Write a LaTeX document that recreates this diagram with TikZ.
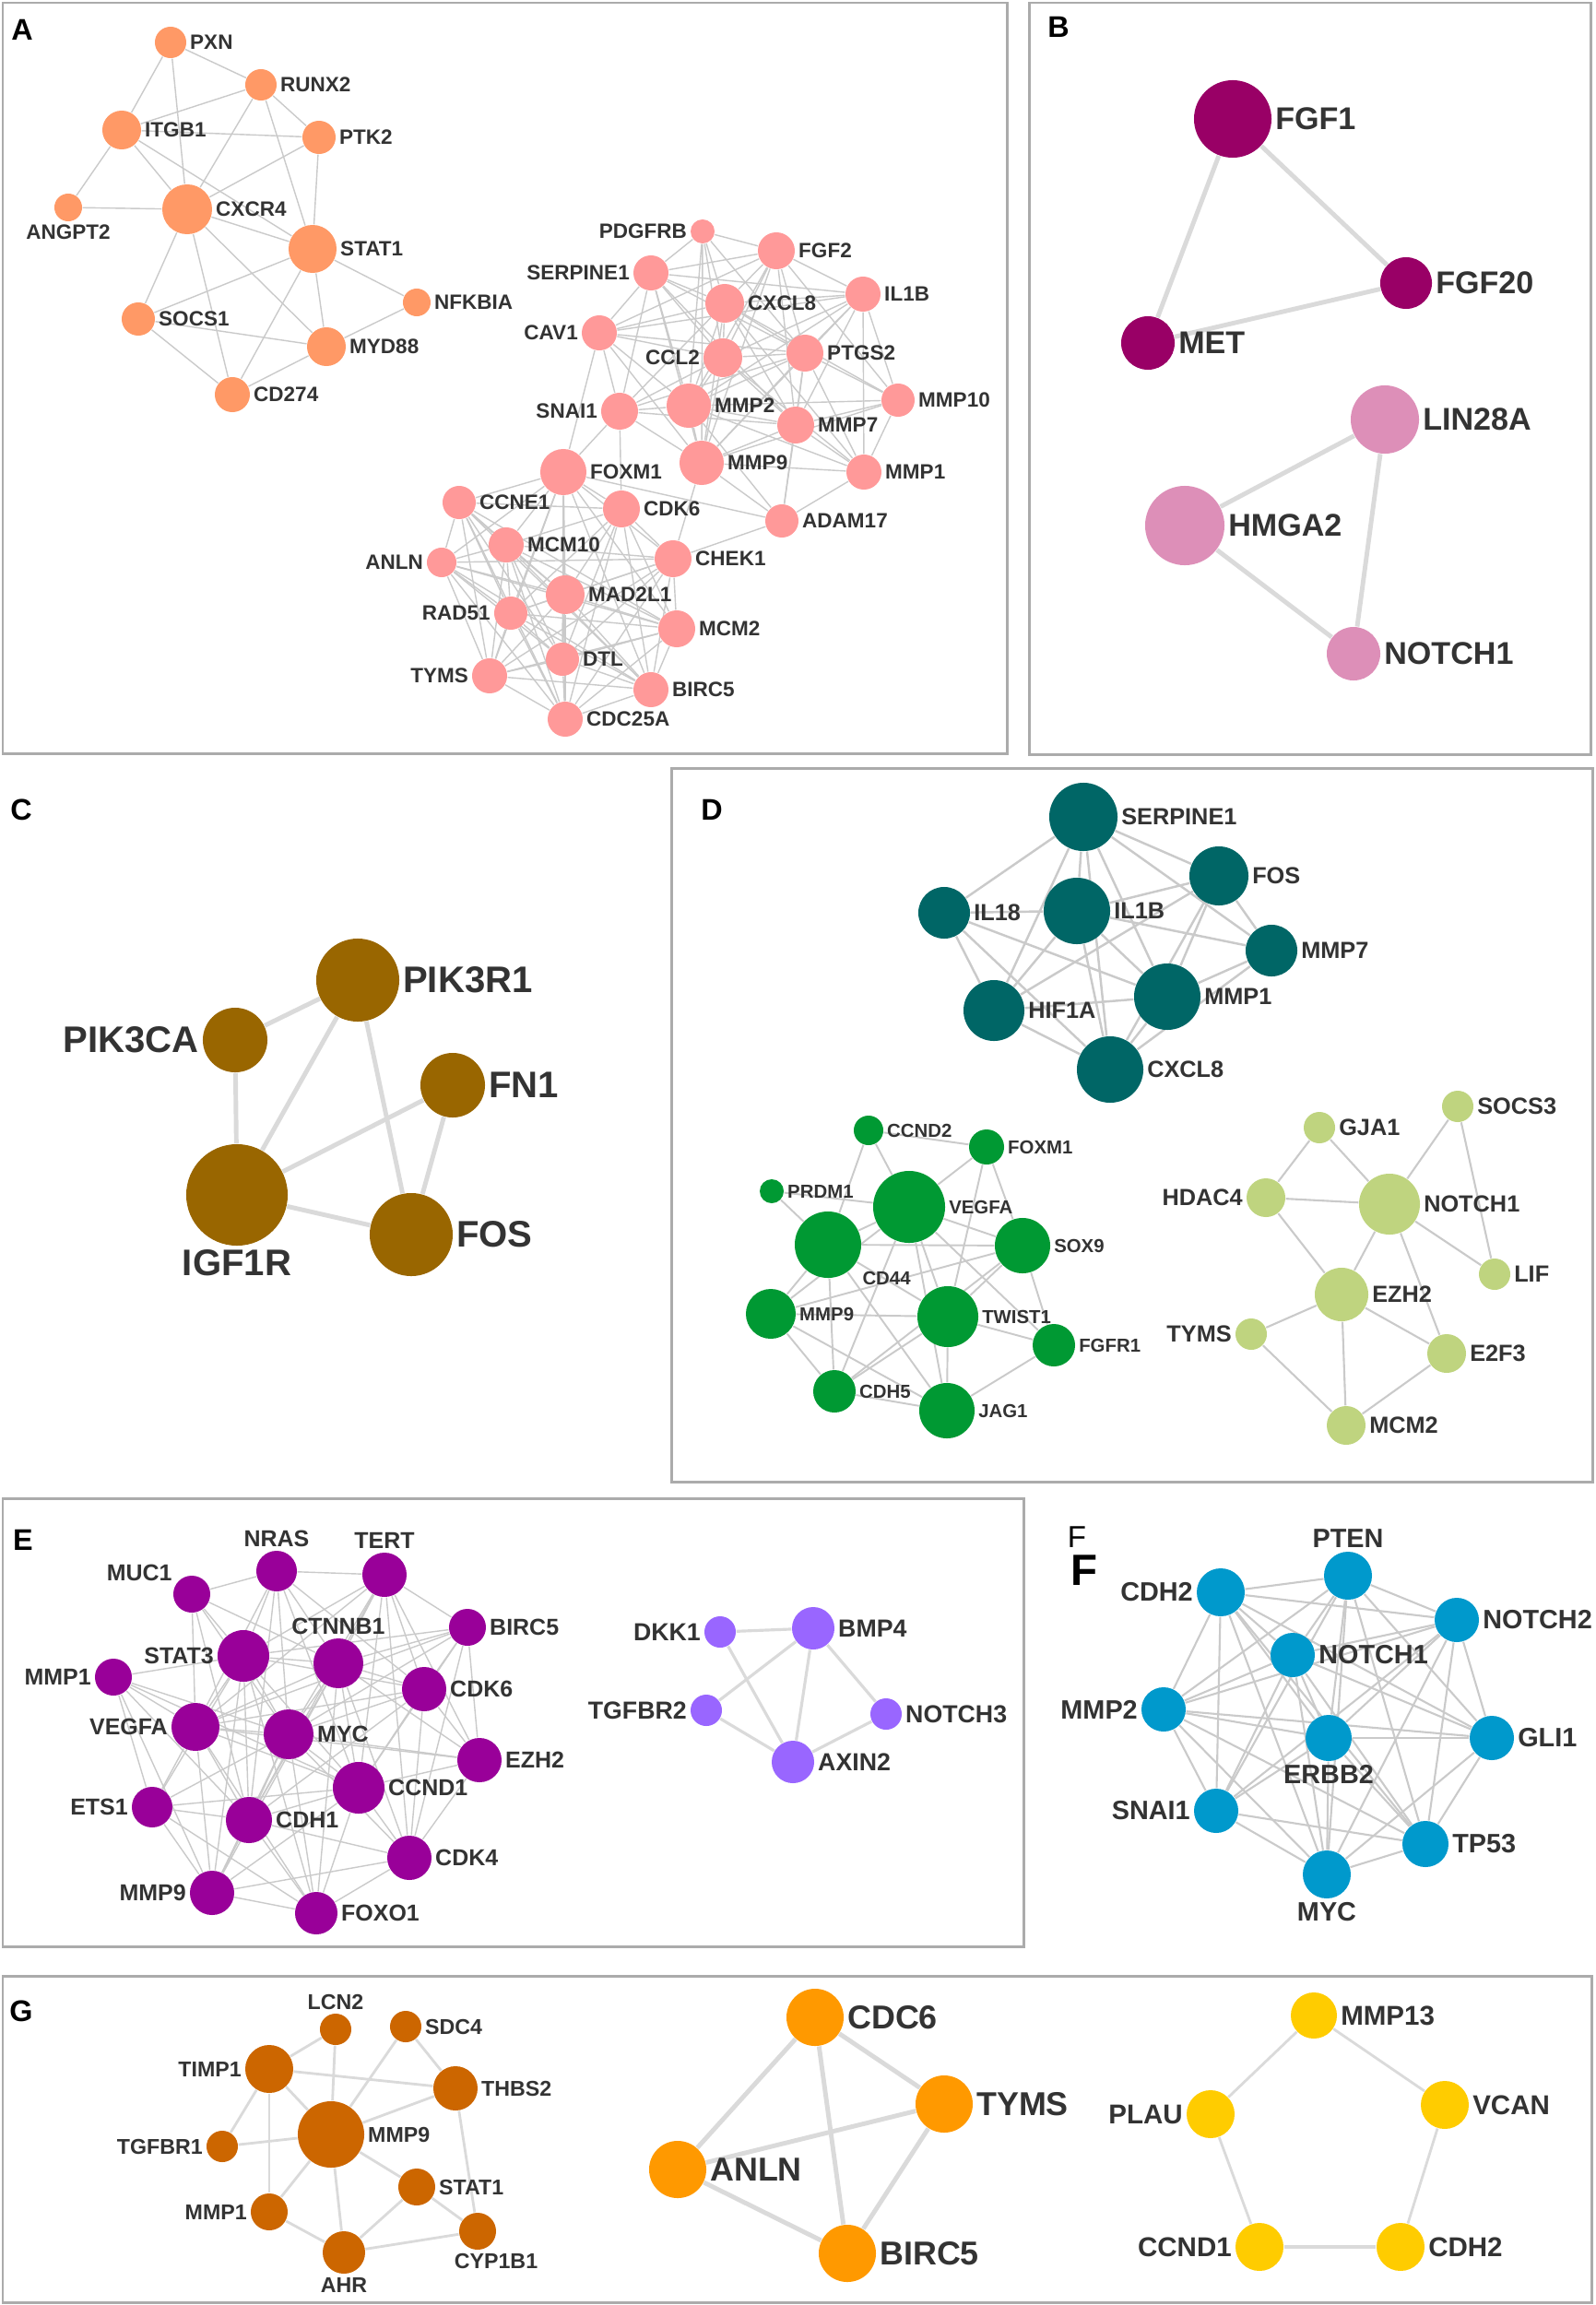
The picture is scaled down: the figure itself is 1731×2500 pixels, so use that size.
\documentclass[tikz,border=0pt]{standalone}
\usepackage{fontspec}
\setmainfont{Liberation Sans}
\pgfdeclarelayer{bg}
\pgfsetlayers{bg,main}
\definecolor{txt}{HTML}{333333}
\definecolor{frm}{HTML}{ABABAB}
\definecolor{lnk}{HTML}{CACACA}
\definecolor{lnkb}{HTML}{DADADA}
\definecolor{cAo}{HTML}{FF9966}
\definecolor{cAp}{HTML}{FF9999}
\definecolor{cBd}{HTML}{990066}
\definecolor{cBl}{HTML}{DD8FB8}
\definecolor{cC}{HTML}{996600}
\definecolor{cDt}{HTML}{006666}
\definecolor{cDg}{HTML}{009933}
\definecolor{cDl}{HTML}{BFD47F}
\definecolor{cEp}{HTML}{990099}
\definecolor{cEv}{HTML}{9966FF}
\definecolor{cF}{HTML}{0099CC}
\definecolor{cGb}{HTML}{CC6600}
\definecolor{cGo}{HTML}{FF9900}
\definecolor{cGy}{HTML}{FFCC00}

\begin{document}
\begin{tikzpicture}[x=0.01cm, y=-0.01cm,
    gene/.style={circle, inner sep=0pt, minimum size=#1*0.1mm},
    lbl/.style={text=txt, inner sep=0.8pt, font=\fontsize{#1}{#1}\selectfont\bfseries},
    lA/.style={lbl=6.4}, lB/.style={lbl=9.7}, lC/.style={lbl=11.4},
    lD/.style={lbl=7.2}, lDg/.style={lbl=5.8}, lE/.style={lbl=7.1}, lEv/.style={lbl=7.6},
    lF/.style={lbl=8.2}, lGb/.style={lbl=6.6}, lGo/.style={lbl=10.2}, lGy/.style={lbl=8.4},
    link/.style={draw=lnk, line width=#1pt}, link/.default=0.4,
    wlink/.style={draw=lnkb, line width=#1pt}, wlink/.default=1.4,
    frame/.style={draw=frm, line width=0.85pt},
    panel/.style={font=\fontsize{9.2}{10}\selectfont\bfseries, inner sep=0pt}]

    \useasboundingbox (0,0) rectangle (1731,2500);

    % frames and panel letters
    \draw[frame] (3,3) rectangle (1092,817);
    \draw[frame] (1116,3) rectangle (1725,818);
    \draw[frame] (728,833) rectangle (1727,1607);
    \draw[frame] (3,1625) rectangle (1110,2111);
    \draw[frame] (3,2143) rectangle (1726,2497);
    \node[panel] (tag-a) at (24,32) {A};
    \node[panel] (tag-b) at (1148,29) {B};
    \node[panel] (tag-c) at (23,878) {C};
    \node[panel] (tag-d) at (772,878) {D};
    \node[panel] (tag-e) at (25,1670) {E};
    \node[panel, font=\fontsize{9.4}{10}\selectfont] (tag-f1) at (1168,1667) {F};
    \node[panel, font=\fontsize{13.5}{14}\selectfont\bfseries] (tag-f2) at (1176,1703) {F};
    \node[panel] (tag-g) at (23,2181) {G};

    % A, orange
    \node[gene=34, fill=cAo, label={[lA]right:PXN}] (a-pxn) at (185,46) {};
    \node[gene=34, fill=cAo, label={[lA]right:RUNX2}] (a-runx2) at (283,92) {};
    \node[gene=42, fill=cAo, label={[lA]right:ITGB1}] (a-itgb1) at (132,141) {};
    \node[gene=36, fill=cAo, label={[lA]right:PTK2}] (a-ptk2) at (346,149) {};
    \node[gene=30, fill=cAo, label={[lA]below:ANGPT2}] (a-angpt2) at (74,225) {};
    \node[gene=54, fill=cAo, label={[lA]right:CXCR4}] (a-cxcr4) at (203,227) {};
    \node[gene=52, fill=cAo, label={[lA]right:STAT1}] (a-stat1) at (339,270) {};
    \node[gene=30, fill=cAo, label={[lA]right:NFKBIA}] (a-nfkbia) at (452,328) {};
    \node[gene=36, fill=cAo, label={[lA]right:SOCS1}] (a-socs1) at (150,346) {};
    \node[gene=42, fill=cAo, label={[lA]right:MYD88}] (a-myd88) at (354,376) {};
    \node[gene=38, fill=cAo, label={[lA]right:CD274}] (a-cd274) at (252,428) {};

    % A, pink
    \node[gene=26, fill=cAp, label={[lA]left:PDGFRB}] (a-pdgfrb) at (762,251) {};
    \node[gene=40, fill=cAp, label={[lA]right:FGF2}] (a-fgf2) at (842,272) {};
    \node[gene=38, fill=cAp, label={[lA]left:SERPINE1}] (a-serpine1) at (706,296) {};
    \node[gene=38, fill=cAp, label={[lA]right:IL1B}] (a-il1b) at (936,319) {};
    \node[gene=42, fill=cAp, label={[lA]right:CXCL8}] (a-cxcl8) at (786,329) {};
    \node[gene=38, fill=cAp, label={[lA]left:CAV1}] (a-cav1) at (650,361) {};
    \node[gene=42, fill=cAp, label={[lA]left:CCL2}] (a-ccl2) at (784,388) {};
    \node[gene=40, fill=cAp, label={[lA]right:PTGS2}] (a-ptgs2) at (873,383) {};
    \node[gene=36, fill=cAp, label={[lA]right:MMP10}] (a-mmp10) at (974,434) {};
    \node[gene=40, fill=cAp, label={[lA]left:SNAI1}] (a-snai1) at (672,446) {};
    \node[gene=48, fill=cAp, label={[lA]right:MMP2}] (a-mmp2) at (747,440) {};
    \node[gene=40, fill=cAp, label={[lA]right:MMP7}] (a-mmp7) at (863,461) {};
    \node[gene=48, fill=cAp, label={[lA]right:MMP9}] (a-mmp9) at (761,502) {};
    \node[gene=38, fill=cAp, label={[lA]right:MMP1}] (a-mmp1) at (937,512) {};
    \node[gene=50, fill=cAp, label={[lA]right:FOXM1}] (a-foxm1) at (611,512) {};
    \node[gene=36, fill=cAp, label={[lA]right:CCNE1}] (a-ccne1) at (498,545) {};
    \node[gene=40, fill=cAp, label={[lA]right:CDK6}] (a-cdk6) at (674,552) {};
    \node[gene=36, fill=cAp, label={[lA]right:ADAM17}] (a-adam17) at (848,565) {};
    \node[gene=38, fill=cAp, label={[lA]right:MCM10}] (a-mcm10) at (549,591) {};
    \node[gene=32, fill=cAp, label={[lA]left:ANLN}] (a-anln) at (479,610) {};
    \node[gene=40, fill=cAp, label={[lA]right:CHEK1}] (a-chek1) at (730,606) {};
    \node[gene=42, fill=cAp, label={[lA]right:MAD2L1}] (a-mad2l1) at (613,645) {};
    \node[gene=36, fill=cAp, label={[lA]left:RAD51}] (a-rad51) at (554,665) {};
    \node[gene=40, fill=cAp, label={[lA]right:MCM2}] (a-mcm2) at (734,682) {};
    \node[gene=36, fill=cAp, label={[lA]right:DTL}] (a-dtl) at (610,715) {};
    \node[gene=38, fill=cAp, label={[lA]left:TYMS}] (a-tyms) at (531,733) {};
    \node[gene=38, fill=cAp, label={[lA]right:BIRC5}] (a-birc5) at (706,748) {};
    \node[gene=38, fill=cAp, label={[lA]right:CDC25A}] (a-cdc25a) at (613,780) {};

    % B
    \node[gene=84, fill=cBd, label={[lB]right:FGF1}] (b-fgf1) at (1337,129) {};
    \node[gene=56, fill=cBd, label={[lB]right:FGF20}] (b-fgf20) at (1525,307) {};
    \node[gene=58, fill=cBd, label={[lB]right:MET}] (b-met) at (1245,372) {};
    \node[gene=74, fill=cBl, label={[lB]right:LIN28A}] (b-lin28a) at (1502,455) {};
    \node[gene=86, fill=cBl, label={[lB]right:HMGA2}] (b-hmga2) at (1285,570) {};
    \node[gene=58, fill=cBl, label={[lB]right:NOTCH1}] (b-notch1) at (1468,709) {};

    % C
    \node[gene=90, fill=cC, label={[lC]right:PIK3R1}] (c-pik3r1) at (388,1063) {};
    \node[gene=70, fill=cC, label={[lC]left:PIK3CA}] (c-pik3ca) at (255,1128) {};
    \node[gene=70, fill=cC, label={[lC]right:FN1}] (c-fn1) at (491,1177) {};
    \node[gene=110, fill=cC, label={[lC]below:IGF1R}] (c-igf1r) at (257,1296) {};
    \node[gene=90, fill=cC, label={[lC]right:FOS}] (c-fos) at (446,1339) {};

    % D, teal
    \node[gene=74, fill=cDt, label={[lD]right:SERPINE1}] (d-serpine1) at (1175,886) {};
    \node[gene=64, fill=cDt, label={[lD]right:FOS}] (d-fos) at (1322,950) {};
    \node[gene=56, fill=cDt, label={[lD]right:IL18}] (d-il18) at (1024,990) {};
    \node[gene=72, fill=cDt, label={[lD]right:IL1B}] (d-il1b) at (1168,988) {};
    \node[gene=56, fill=cDt, label={[lD]right:MMP7}] (d-mmp7) at (1379,1031) {};
    \node[gene=72, fill=cDt, label={[lD]right:MMP1}] (d-mmp1) at (1266,1081) {};
    \node[gene=66, fill=cDt, label={[lD]right:HIF1A}] (d-hif1a) at (1078,1096) {};
    \node[gene=72, fill=cDt, label={[lD]right:CXCL8}] (d-cxcl8) at (1204,1160) {};

    % D, green
    \node[gene=32, fill=cDg, label={[lDg]right:CCND2}] (dg-ccnd2) at (942,1226) {};
    \node[gene=38, fill=cDg, label={[lDg]right:FOXM1}] (dg-foxm1) at (1070,1244) {};
    \node[gene=26, fill=cDg, label={[lDg]right:PRDM1}] (dg-prdm1) at (837,1292) {};
    \node[gene=78, fill=cDg, label={[lDg]right:VEGFA}] (dg-vegfa) at (986,1309) {};
    \node[gene=72, fill=cDg, label={[lDg, anchor=north west, xshift=0.8mm]south east:CD44}] (dg-cd44) at (898,1350) {};
    \node[gene=60, fill=cDg, label={[lDg]right:SOX9}] (dg-sox9) at (1109,1351) {};
    \node[gene=54, fill=cDg, label={[lDg]right:MMP9}] (dg-mmp9) at (836,1425) {};
    \node[gene=66, fill=cDg, label={[lDg]right:TWIST1}] (dg-twist1) at (1028,1428) {};
    \node[gene=46, fill=cDg, label={[lDg]right:FGFR1}] (dg-fgfr1) at (1143,1459) {};
    \node[gene=46, fill=cDg, label={[lDg]right:CDH5}] (dg-cdh5) at (905,1509) {};
    \node[gene=60, fill=cDg, label={[lDg]right:JAG1}] (dg-jag1) at (1027,1530) {};

    % D, light green
    \node[gene=34, fill=cDl, label={[lD]right:GJA1}] (dl-gja1) at (1431,1223) {};
    \node[gene=34, fill=cDl, label={[lD]right:SOCS3}] (dl-socs3) at (1581,1200) {};
    \node[gene=42, fill=cDl, label={[lD]left:HDAC4}] (dl-hdac4) at (1373,1299) {};
    \node[gene=66, fill=cDl, label={[lD]right:NOTCH1}] (dl-notch1) at (1507,1306) {};
    \node[gene=34, fill=cDl, label={[lD]right:LIF}] (dl-lif) at (1621,1382) {};
    \node[gene=58, fill=cDl, label={[lD]right:EZH2}] (dl-ezh2) at (1455,1404) {};
    \node[gene=34, fill=cDl, label={[lD]left:TYMS}] (dl-tyms) at (1357,1447) {};
    \node[gene=42, fill=cDl, label={[lD]right:E2F3}] (dl-e2f3) at (1569,1468) {};
    \node[gene=42, fill=cDl, label={[lD]right:MCM2}] (dl-mcm2) at (1460,1546) {};

    % E, purple
    \node[gene=40, fill=cEp, label={[lE]150:MUC1}] (e-muc1) at (208,1729) {};
    \node[gene=44, fill=cEp, label={[lE]above:NRAS}] (e-nras) at (300,1704) {};
    \node[gene=48, fill=cEp, label={[lE]above:TERT}] (e-tert) at (417,1708) {};
    \node[gene=40, fill=cEp, label={[lE]right:BIRC5}] (e-birc5) at (507,1765) {};
    \node[gene=56, fill=cEp, label={[lE]left:STAT3}] (e-stat3) at (264,1796) {};
    \node[gene=54, fill=cEp, label={[lE]above:CTNNB1}] (e-ctnnb1) at (367,1804) {};
    \node[gene=40, fill=cEp, label={[lE]left:MMP1}] (e-mmp1) at (123,1819) {};
    \node[gene=48, fill=cEp, label={[lE]right:CDK6}] (e-cdk6) at (460,1832) {};
    \node[gene=52, fill=cEp, label={[lE]left:VEGFA}] (e-vegfa) at (212,1873) {};
    \node[gene=54, fill=cEp, label={[lE]right:MYC}] (e-myc) at (313,1881) {};
    \node[gene=48, fill=cEp, label={[lE]right:EZH2}] (e-ezh2) at (520,1909) {};
    \node[gene=56, fill=cEp, label={[lE]right:CCND1}] (e-ccnd1) at (389,1939) {};
    \node[gene=44, fill=cEp, label={[lE]left:ETS1}] (e-ets1) at (165,1960) {};
    \node[gene=50, fill=cEp, label={[lE]right:CDH1}] (e-cdh1) at (270,1974) {};
    \node[gene=48, fill=cEp, label={[lE]right:CDK4}] (e-cdk4) at (444,2015) {};
    \node[gene=48, fill=cEp, label={[lE]left:MMP9}] (e-mmp9) at (230,2053) {};
    \node[gene=46, fill=cEp, label={[lE]right:FOXO1}] (e-foxo1) at (343,2075) {};

    % E, violet
    \node[gene=34, fill=cEv, label={[lEv]left:DKK1}] (ev-dkk1) at (781,1770) {};
    \node[gene=46, fill=cEv, label={[lEv]right:BMP4}] (ev-bmp4) at (882,1766) {};
    \node[gene=34, fill=cEv, label={[lEv]left:TGFBR2}] (ev-tgfbr2) at (766,1855) {};
    \node[gene=34, fill=cEv, label={[lEv]right:NOTCH3}] (ev-notch3) at (961,1859) {};
    \node[gene=46, fill=cEv, label={[lEv]right:AXIN2}] (ev-axin2) at (860,1911) {};

    % F
    \node[gene=52, fill=cF, label={[lF]above:PTEN}] (f-pten) at (1462,1709) {};
    \node[gene=52, fill=cF, label={[lF]left:CDH2}] (f-cdh2) at (1324,1727) {};
    \node[gene=48, fill=cF, label={[lF]right:NOTCH2}] (f-notch2) at (1580,1757) {};
    \node[gene=48, fill=cF, label={[lF]right:NOTCH1}] (f-notch1) at (1402,1795) {};
    \node[gene=48, fill=cF, label={[lF]left:MMP2}] (f-mmp2) at (1262,1854) {};
    \node[gene=50, fill=cF, label={[lF]below:ERBB2}] (f-erbb2) at (1441,1885) {};
    \node[gene=48, fill=cF, label={[lF]right:GLI1}] (f-gli1) at (1618,1885) {};
    \node[gene=48, fill=cF, label={[lF]left:SNAI1}] (f-snai1) at (1319,1964) {};
    \node[gene=50, fill=cF, label={[lF]right:TP53}] (f-tp53) at (1546,2000) {};
    \node[gene=52, fill=cF, label={[lF]below:MYC}] (f-myc) at (1439,2033) {};

    % G, brown
    \node[gene=34, fill=cGb, label={[lGb]above:LCN2}] (g-lcn2) at (364,2201) {};
    \node[gene=34, fill=cGb, label={[lGb]right:SDC4}] (g-sdc4) at (440,2198) {};
    \node[gene=52, fill=cGb, label={[lGb]left:TIMP1}] (g-timp1) at (292,2244) {};
    \node[gene=48, fill=cGb, label={[lGb]right:THBS2}] (g-thbs2) at (494,2265) {};
    \node[gene=72, fill=cGb, label={[lGb]right:MMP9}] (g-mmp9) at (359,2315) {};
    \node[gene=34, fill=cGb, label={[lGb]left:TGFBR1}] (g-tgfbr1) at (241,2328) {};
    \node[gene=40, fill=cGb, label={[lGb]right:STAT1}] (g-stat1) at (452,2372) {};
    \node[gene=40, fill=cGb, label={[lGb]left:MMP1}] (g-mmp1) at (292,2399) {};
    \node[gene=40, fill=cGb, label={[lGb, xshift=2mm]below:CYP1B1}] (g-cyp1b1) at (518,2420) {};
    \node[gene=46, fill=cGb, label={[lGb]below:AHR}] (g-ahr) at (373,2443) {};

    % G, orange
    \node[gene=62, fill=cGo, label={[lGo]right:CDC6}] (go-cdc6) at (884,2188) {};
    \node[gene=62, fill=cGo, label={[lGo]right:TYMS}] (go-tyms) at (1024,2282) {};
    \node[gene=62, fill=cGo, label={[lGo]right:ANLN}] (go-anln) at (735,2353) {};
    \node[gene=62, fill=cGo, label={[lGo]right:BIRC5}] (go-birc5) at (919,2444) {};

    % G, yellow
    \node[gene=50, fill=cGy, label={[lGy]right:MMP13}] (gy-mmp13) at (1425,2186) {};
    \node[gene=52, fill=cGy, label={[lGy]left:PLAU}] (gy-plau) at (1313,2293) {};
    \node[gene=52, fill=cGy, label={[lGy]right:VCAN}] (gy-vcan) at (1567,2283) {};
    \node[gene=52, fill=cGy, label={[lGy]left:CCND1}] (gy-ccnd1) at (1366,2437) {};
    \node[gene=52, fill=cGy, label={[lGy]right:CDH2}] (gy-cdh2) at (1519,2437) {};

    \begin{pgfonlayer}{bg}
    % A
    \path[link] (a-pxn) edge (a-itgb1) edge (a-cxcr4) edge (a-runx2);
    \path[link] (a-runx2) edge (a-itgb1) edge (a-cxcr4) edge (a-ptk2) edge (a-stat1);
    \path[link] (a-itgb1) edge (a-ptk2) edge (a-cxcr4) edge (a-stat1) edge (a-angpt2);
    \path[link] (a-cxcr4) edge (a-angpt2) edge (a-ptk2) edge (a-stat1) edge (a-socs1) edge (a-cd274) edge (a-myd88);
    \path[link] (a-stat1) edge (a-ptk2) edge (a-socs1) edge (a-nfkbia) edge (a-myd88) edge (a-cd274);
    \path[link] (a-socs1) edge (a-myd88) edge (a-cd274);
    \path[link] (a-myd88) edge (a-cd274) edge (a-nfkbia);

    \path[link] (a-pdgfrb) edge (a-fgf2) edge (a-serpine1) edge (a-cxcl8) edge (a-ccl2) edge (a-mmp2) edge (a-mmp9) edge (a-ptgs2);
    \path[link] (a-fgf2) edge (a-serpine1) edge (a-cxcl8) edge (a-il1b) edge (a-ccl2) edge (a-ptgs2) edge (a-mmp2) edge (a-mmp7) edge (a-mmp10) edge (a-mmp9) edge (a-cav1);
    \path[link] (a-serpine1) edge (a-cxcl8) edge (a-cav1) edge (a-ccl2) edge (a-ptgs2) edge (a-mmp2) edge (a-mmp9) edge (a-snai1) edge (a-il1b) edge (a-mmp7);
    \path[link] (a-il1b) edge (a-cxcl8) edge (a-ptgs2) edge (a-mmp10) edge (a-mmp1) edge (a-mmp7) edge (a-mmp9) edge (a-ccl2) edge (a-mmp2) edge (a-cav1);
    \path[link] (a-cxcl8) edge (a-cav1) edge (a-ccl2) edge (a-ptgs2) edge (a-mmp2) edge (a-mmp9) edge (a-mmp7) edge (a-mmp10) edge (a-mmp1) edge (a-snai1);
    \path[link] (a-cav1) edge (a-ccl2) edge (a-ptgs2) edge (a-snai1) edge (a-mmp2) edge (a-mmp9) edge (a-foxm1);
    \path[link] (a-ccl2) edge (a-ptgs2) edge (a-mmp2) edge (a-mmp9) edge (a-mmp7) edge (a-snai1) edge (a-mmp1);
    \path[link] (a-ptgs2) edge (a-mmp10) edge (a-mmp2) edge (a-mmp7) edge (a-mmp9) edge (a-mmp1) edge (a-snai1) edge (a-adam17);
    \path[link] (a-mmp10) edge (a-mmp7) edge (a-mmp1) edge (a-mmp9) edge (a-mmp2);
    \path[link] (a-snai1) edge (a-mmp2) edge (a-mmp9) edge (a-mmp7) edge (a-foxm1) edge (a-cdk6);
    \path[link] (a-mmp2) edge (a-mmp7) edge (a-mmp9) edge (a-mmp1) edge (a-adam17);
    \path[link] (a-mmp7) edge (a-mmp9) edge (a-mmp1) edge (a-adam17);
    \path[link] (a-mmp9) edge (a-mmp1) edge (a-adam17) edge (a-chek1);
    \path[link] (a-mmp1) edge (a-adam17);
    \path[link] (a-adam17) edge (a-chek1) edge (a-foxm1);

    \path[link] (a-foxm1) edge (a-ccne1) edge (a-cdk6) edge (a-mcm10) edge (a-anln) edge (a-chek1) edge (a-mad2l1) edge (a-rad51) edge (a-mcm2) edge (a-dtl) edge (a-tyms) edge (a-birc5) edge (a-cdc25a);
    \path[link] (a-ccne1) edge (a-mcm10) edge (a-anln) edge (a-mad2l1) edge (a-rad51) edge (a-tyms) edge (a-cdc25a) edge (a-cdk6) edge (a-mcm2) edge (a-dtl) edge (a-birc5);
    \path[link] (a-cdk6) edge (a-mcm10) edge (a-chek1) edge (a-mad2l1) edge (a-mcm2) edge (a-rad51) edge (a-cdc25a) edge (a-dtl) edge (a-birc5);
    \path[link] (a-mcm10) edge (a-anln) edge (a-mad2l1) edge (a-rad51) edge (a-mcm2) edge (a-dtl) edge (a-tyms) edge (a-birc5) edge (a-cdc25a) edge (a-chek1);
    \path[link] (a-anln) edge (a-mad2l1) edge (a-rad51) edge (a-tyms) edge (a-dtl) edge (a-birc5) edge (a-cdc25a) edge (a-mcm2) edge (a-chek1);
    \path[link] (a-chek1) edge (a-mad2l1) edge (a-mcm2) edge (a-rad51) edge (a-dtl) edge (a-birc5) edge (a-cdc25a) edge (a-tyms);
    \path[link] (a-mad2l1) edge (a-rad51) edge (a-mcm2) edge (a-dtl) edge (a-tyms) edge (a-birc5) edge (a-cdc25a);
    \path[link] (a-rad51) edge (a-dtl) edge (a-tyms) edge (a-birc5) edge (a-cdc25a) edge (a-mcm2);
    \path[link] (a-mcm2) edge (a-dtl) edge (a-birc5) edge (a-cdc25a) edge (a-tyms);
    \path[link] (a-dtl) edge (a-tyms) edge (a-birc5) edge (a-cdc25a);
    \path[link] (a-tyms) edge (a-birc5) edge (a-cdc25a);
    \path[link] (a-birc5) edge (a-cdc25a);

    % B
    \path[wlink] (b-fgf1) edge (b-met) edge (b-fgf20);
    \path[wlink] (b-met) edge (b-fgf20);
    \path[wlink] (b-hmga2) edge (b-lin28a) edge (b-notch1);
    \path[wlink] (b-lin28a) edge (b-notch1);

    % C
    \path[wlink] (c-pik3ca) edge (c-pik3r1) edge (c-igf1r);
    \path[wlink] (c-pik3r1) edge (c-igf1r) edge (c-fos);
    \path[wlink] (c-fn1) edge (c-igf1r) edge (c-fos);
    \path[wlink] (c-igf1r) edge (c-fos);

    % D
    \path[link=0.7] (d-serpine1) edge (d-il18) edge (d-il1b) edge (d-fos) edge (d-mmp7) edge (d-mmp1) edge (d-hif1a) edge (d-cxcl8);
    \path[link=0.7] (d-il18) edge (d-il1b) edge (d-mmp1) edge (d-hif1a) edge (d-cxcl8);
    \path[link=0.7] (d-il1b) edge (d-fos) edge (d-mmp7) edge (d-hif1a) edge (d-mmp1) edge (d-cxcl8);
    \path[link=0.7] (d-fos) edge (d-mmp7) edge (d-mmp1) edge (d-hif1a) edge (d-cxcl8);
    \path[link=0.7] (d-mmp7) edge (d-mmp1) edge (d-cxcl8);
    \path[link=0.7] (d-mmp1) edge (d-hif1a) edge (d-cxcl8);
    \path[link=0.7] (d-hif1a) edge (d-cxcl8);

    \path[link=0.55] (dg-ccnd2) edge (dg-foxm1) edge (dg-vegfa) edge (dg-cd44);
    \path[link=0.55] (dg-foxm1) edge (dg-vegfa) edge (dg-sox9) edge (dg-twist1);
    \path[link=0.55] (dg-prdm1) edge (dg-vegfa) edge (dg-cd44);
    \path[link=0.55] (dg-vegfa) edge (dg-cd44) edge (dg-sox9) edge (dg-mmp9) edge (dg-twist1) edge (dg-jag1) edge (dg-cdh5) edge (dg-fgfr1);
    \path[link=0.55] (dg-cd44) edge (dg-sox9) edge (dg-mmp9) edge (dg-twist1) edge (dg-cdh5) edge (dg-jag1);
    \path[link=0.55] (dg-sox9) edge (dg-mmp9) edge (dg-twist1) edge (dg-fgfr1) edge (dg-cdh5);
    \path[link=0.55] (dg-mmp9) edge (dg-twist1) edge (dg-cdh5) edge (dg-jag1);
    \path[link=0.55] (dg-twist1) edge (dg-fgfr1) edge (dg-jag1) edge (dg-cdh5);
    \path[link=0.55] (dg-jag1) edge (dg-fgfr1) edge (dg-cdh5);

    \path[link=0.6] (dl-gja1) edge (dl-hdac4) edge (dl-notch1);
    \path[link=0.6] (dl-socs3) edge (dl-notch1) edge (dl-lif);
    \path[link=0.6] (dl-hdac4) edge (dl-notch1) edge (dl-ezh2);
    \path[link=0.6] (dl-notch1) edge (dl-ezh2) edge (dl-lif) edge (dl-e2f3);
    \path[link=0.6] (dl-ezh2) edge (dl-tyms) edge (dl-e2f3) edge (dl-mcm2);
    \path[link=0.6] (dl-mcm2) edge (dl-tyms) edge (dl-e2f3);

    % E
    \path[link] (e-muc1) edge (e-nras) edge (e-stat3) edge (e-vegfa) edge (e-myc) edge (e-cdh1) edge (e-ctnnb1);
    \path[link] (e-nras) edge (e-tert) edge (e-stat3) edge (e-ctnnb1) edge (e-myc) edge (e-vegfa) edge (e-ccnd1) edge (e-cdh1) edge (e-cdk6);
    \path[link] (e-tert) edge (e-birc5) edge (e-ctnnb1) edge (e-stat3) edge (e-myc) edge (e-cdk6) edge (e-ccnd1) edge (e-cdh1) edge (e-vegfa) edge (e-cdk4) edge (e-ezh2);
    \path[link] (e-birc5) edge (e-cdk6) edge (e-ctnnb1) edge (e-ezh2) edge (e-ccnd1) edge (e-myc) edge (e-stat3) edge (e-cdk4) edge (e-vegfa);
    \path[link] (e-stat3) edge (e-mmp1) edge (e-ctnnb1) edge (e-vegfa) edge (e-myc) edge (e-ccnd1) edge (e-cdh1) edge (e-ets1) edge (e-mmp9) edge (e-foxo1) edge (e-cdk6);
    \path[link] (e-ctnnb1) edge (e-myc) edge (e-vegfa) edge (e-cdk6) edge (e-ccnd1) edge (e-cdh1) edge (e-ezh2) edge (e-mmp9) edge (e-cdk4) edge (e-foxo1);
    \path[link] (e-mmp1) edge (e-vegfa) edge (e-myc) edge (e-ets1) edge (e-mmp9) edge (e-cdh1) edge (e-ccnd1);
    \path[link] (e-cdk6) edge (e-myc) edge (e-ccnd1) edge (e-ezh2) edge (e-cdk4) edge (e-cdh1) edge (e-vegfa);
    \path[link] (e-vegfa) edge (e-myc) edge (e-ets1) edge (e-cdh1) edge (e-ccnd1) edge (e-mmp9) edge (e-foxo1) edge (e-ezh2);
    \path[link] (e-myc) edge (e-ccnd1) edge (e-cdh1) edge (e-ezh2) edge (e-cdk4) edge (e-foxo1) edge (e-mmp9) edge (e-ets1);
    \path[link] (e-ezh2) edge (e-ccnd1) edge (e-cdk4);
    \path[link] (e-ccnd1) edge (e-cdh1) edge (e-cdk4) edge (e-foxo1) edge (e-ets1) edge (e-mmp9);
    \path[link] (e-ets1) edge (e-cdh1) edge (e-mmp9) edge (e-foxo1);
    \path[link] (e-cdh1) edge (e-mmp9) edge (e-foxo1) edge (e-cdk4);
    \path[link] (e-cdk4) edge (e-foxo1) edge (e-mmp9);
    \path[link] (e-mmp9) edge (e-foxo1);

    \path[wlink=0.9] (ev-dkk1) edge (ev-bmp4) edge (ev-axin2);
    \path[wlink=0.9] (ev-bmp4) edge (ev-tgfbr2) edge (ev-axin2) edge (ev-notch3);
    \path[wlink=0.9] (ev-axin2) edge (ev-tgfbr2) edge (ev-notch3);

    % F
    \path[link=0.6] (f-cdh2) edge (f-pten) edge (f-notch2) edge (f-notch1) edge (f-mmp2) edge (f-erbb2) edge (f-snai1) edge (f-myc) edge (f-tp53) edge (f-gli1);
    \path[link=0.6] (f-pten) edge (f-notch2) edge (f-notch1) edge (f-mmp2) edge (f-erbb2) edge (f-tp53) edge (f-myc) edge (f-gli1) edge (f-snai1);
    \path[link=0.6] (f-notch2) edge (f-notch1) edge (f-erbb2) edge (f-gli1) edge (f-tp53) edge (f-myc) edge (f-snai1) edge (f-mmp2);
    \path[link=0.6] (f-notch1) edge (f-mmp2) edge (f-erbb2) edge (f-gli1) edge (f-snai1) edge (f-tp53) edge (f-myc);
    \path[link=0.6] (f-mmp2) edge (f-erbb2) edge (f-gli1) edge (f-snai1) edge (f-tp53) edge (f-myc);
    \path[link=0.6] (f-erbb2) edge (f-gli1) edge (f-snai1) edge (f-tp53) edge (f-myc);
    \path[link=0.6] (f-gli1) edge (f-tp53) edge (f-myc);
    \path[link=0.6] (f-snai1) edge (f-tp53) edge (f-myc);
    \path[link=0.6] (f-tp53) edge (f-myc);

    % G
    \path[wlink=0.8] (g-timp1) edge (g-lcn2) edge (g-thbs2) edge (g-mmp9) edge (g-tgfbr1) edge (g-mmp1);
    \path[wlink=0.8] (g-mmp9) edge (g-lcn2) edge (g-sdc4) edge (g-thbs2) edge (g-tgfbr1) edge (g-stat1) edge (g-mmp1) edge (g-ahr);
    \path[wlink=0.8] (g-thbs2) edge (g-sdc4) edge (g-cyp1b1);
    \path[wlink=0.8] (g-ahr) edge (g-stat1) edge (g-mmp1) edge (g-cyp1b1);
    \path[wlink=0.8] (g-stat1) edge (g-cyp1b1);

    \path[wlink] (go-cdc6) edge (go-tyms) edge (go-anln) edge (go-birc5);
    \path[wlink] (go-tyms) edge (go-anln) edge (go-birc5);
    \path[wlink] (go-anln) edge (go-birc5);

    \path[wlink=0.8] (gy-mmp13) edge (gy-plau) edge (gy-vcan);
    \path[wlink=0.8] (gy-plau) edge (gy-ccnd1);
    \path[wlink=0.8] (gy-vcan) edge (gy-cdh2);
    \path[wlink=1.3] (gy-ccnd1) edge (gy-cdh2);
    \end{pgfonlayer}

\end{tikzpicture}
\end{document}
